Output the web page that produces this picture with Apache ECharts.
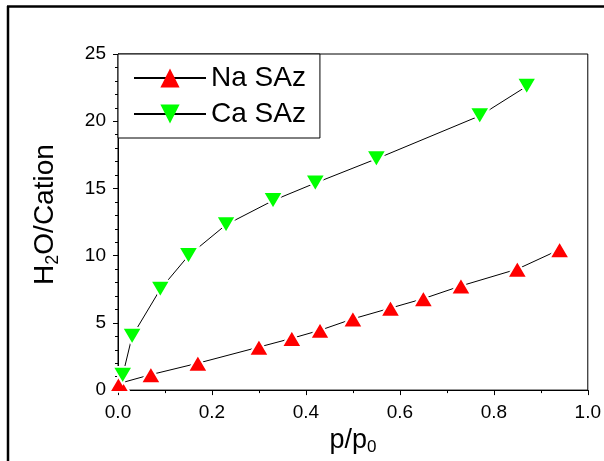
<!DOCTYPE html>
<html>
<head>
<meta charset="utf-8">
<script src="https://cdn.jsdelivr.net/npm/echarts@6/dist/echarts.min.js"></script>
<style>
	html, body { margin: 0; padding: 0; background: #fff; }
	#chart { width: 604px; height: 461px; }
</style>
</head>
<body>
<div id="chart"></div>
<script>
// values
var naX = [0.003, 0.07, 0.17, 0.30, 0.37, 0.43, 0.50, 0.58, 0.65, 0.73, 0.85, 0.94];
var naY = [0.5, 1.15, 2.0, 3.2, 3.85, 4.45, 5.3, 6.1, 6.8, 7.75, 9.0, 10.45];
var caX = [0.01, 0.03, 0.09, 0.15, 0.23, 0.33, 0.42, 0.55, 0.77, 0.87];
var caY = [1.1, 4.0, 7.5, 10.0, 12.3, 14.1, 15.4, 17.2, 20.4, 22.6];
var seriesNames = ['Na SAz', 'Ca SAz'];

function pairs(xs, ys) {
	var out = [];
	for (var i = 0; i < xs.length; i++) {
		out.push([xs[i], ys[i]]);
	}
	return out;
}

var font = '"Liberation Sans", Arial, sans-serif';
var myChart = echarts.init(document.getElementById('chart'));
var option = {
	backgroundColor: '#fff',
	animation: false,
	textStyle: { fontFamily: font },
	graphic: [
		{ type: 'line', shape: { x1: 7, y1: 6.5, x2: 604, y2: 6.5 }, style: { stroke: '#000', lineWidth: 2.5 } },
		{ type: 'line', shape: { x1: 8, y1: 6, x2: 8, y2: 461 }, style: { stroke: '#000', lineWidth: 2.5 } }
	],
	grid: {
		left: 118, top: 54, width: 471, height: 341,
		show: true, borderColor: '#000', borderWidth: 1
	},
	legend: {
		left: 118, top: 54,
		orient: 'vertical',
		backgroundColor: '#fff',
		borderColor: '#000',
		borderWidth: 1,
		borderRadius: 0,
		padding: [10, 14, 10, 15],
		itemWidth: 72,
		itemHeight: 24,
		itemGap: 8,
		itemTextGap: 8,
		itemStyle: { borderWidth: 0 },
		textStyle: { fontSize: 28, lineHeight: 24, color: '#000', fontFamily: font },
		data: seriesNames
	},
	xAxis: {
		type: 'value',
		min: 0, max: 1, interval: 0.2,
		name: 'p/p{sub|0}',
		nameLocation: 'middle',
		nameGap: 32,
		nameTextStyle: {
			fontSize: 27, color: '#000',
			rich: { sub: { fontSize: 17, padding: [14, 0, 0, 0], color: '#000' } }
		},
		axisLine: { lineStyle: { color: '#000', width: 1 } },
		axisTick: { show: true, inside: false, length: 5, lineStyle: { color: '#000' } },
		minorTick: { show: true, splitNumber: 2, length: 3, lineStyle: { color: '#000' } },
		splitLine: { show: false },
		axisLabel: {
			fontSize: 19, color: '#000', margin: 13,
			formatter: function (v) { return v.toFixed(1); }
		}
	},
	yAxis: {
		type: 'value',
		min: 0, max: 25, interval: 5,
		name: 'H{sub|2}O/Cation',
		nameLocation: 'middle',
		nameGap: 56,
		nameTextStyle: {
			fontSize: 28, color: '#000',
			padding: [0, 0, 0, 15],
			rich: { sub: { fontSize: 18, padding: [15, 0, 0, 0], color: '#000' } }
		},
		axisLine: { show: true, lineStyle: { color: '#000', width: 1 } },
		axisTick: { show: true, inside: false, length: 5, lineStyle: { color: '#000' } },
		minorTick: { show: true, splitNumber: 5, length: 3, lineStyle: { color: '#000' } },
		splitLine: { show: false },
		axisLabel: { fontSize: 19, color: '#000', margin: 12 }
	},
	series: [{
		name: seriesNames[0],
		type: 'line',
		data: pairs(naX, naY),
		symbol: 'triangle',
		symbolSize: [20, 17],
		showAllSymbol: true,
		clip: false,
		lineStyle: { color: '#000', width: 1 },
		itemStyle: { color: '#ff0000', borderColor: '#fff', borderWidth: 2 },
		z: 3
	}, {
		name: seriesNames[1],
		type: 'line',
		data: pairs(caX, caY),
		symbol: 'triangle',
		symbolRotate: 180,
		symbolSize: [20, 17],
		showAllSymbol: true,
		clip: false,
		lineStyle: { color: '#000', width: 1 },
		itemStyle: { color: '#00ff00', borderColor: '#fff', borderWidth: 2 },
		z: 3
	}]
};
myChart.setOption(option);
</script>
</body>
</html>
